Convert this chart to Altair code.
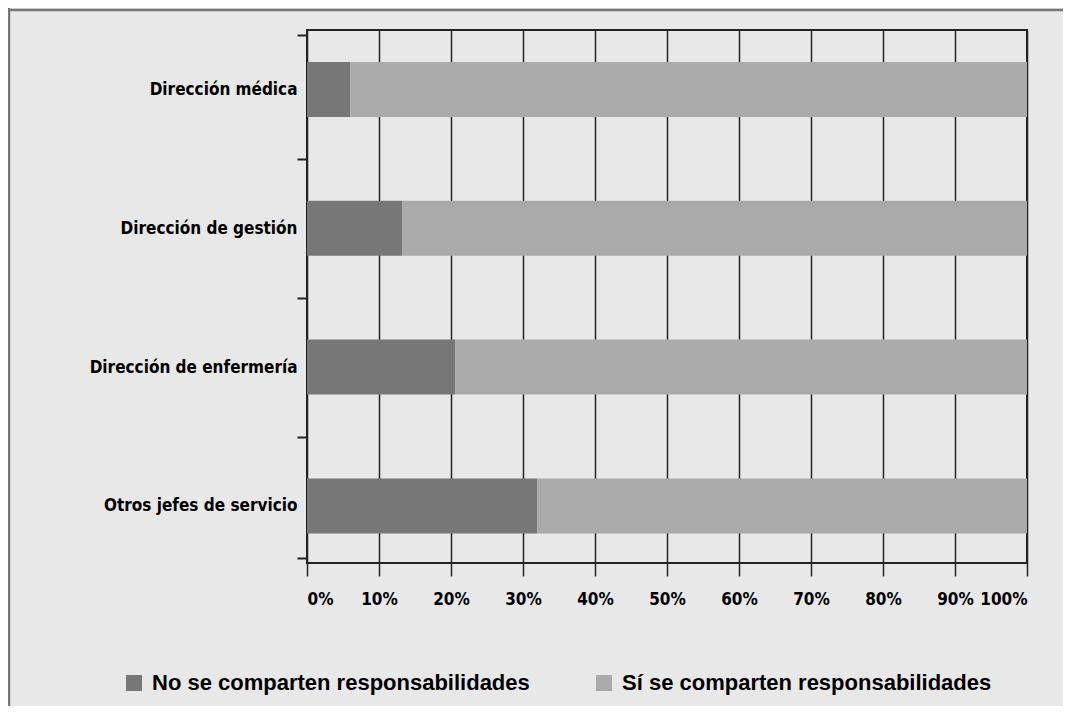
import json
import altair as alt
import pandas as pd

categories = ["Dirección médica", "Dirección de gestión", "Dirección de enfermería", "Otros jefes de servicio"]
series_names = ["No se comparten responsabilidades", "Sí se comparten responsabilidades"]
no_values = [6.0, 13.2, 20.6, 32.0]
si_values = [94.0, 86.8, 79.4, 68.0]
x_ticks = [0, 10, 20, 30, 40, 50, 60, 70, 80, 90, 100]

rows = []
for i, cat in enumerate(categories):
    rows.append({"cat": cat, "idx": i, "serie": series_names[0], "order": 0, "value": no_values[i]})
    rows.append({"cat": cat, "idx": i, "serie": series_names[1], "order": 1, "value": si_values[i]})
df = pd.DataFrame(rows)

W, H = 720, 533
PAD_L, PAD_T = 299, 22
PAD_R = 1055 - PAD_L - W
PAD_B = 698 - PAD_T - H

y_lo, y_hi = -0.392, 3.375
y_values = [y_lo, 0, 0.5, 1, 1.5, 2, 2.5, 3, y_hi]
cats_js = json.dumps(categories, ensure_ascii=False)

FONT_N = "Liberation Sans Narrow, DejaVu Sans Condensed, Roboto, sans-serif"
FONT = "Liberation Sans, Arial, sans-serif"

bars = alt.Chart(df).transform_stack(
    stack="value", as_=["x0", "x1"], groupby=["cat"], sort=[alt.SortField("order")]
).mark_bar(size=55).encode(
    x=alt.X("x0:Q", scale=alt.Scale(domain=[0, 100], nice=False, zero=False),
            axis=alt.Axis(values=x_ticks, labelExpr="datum.value + '%'", title=None,
                          grid=True, gridColor="#222", gridWidth=1.5,
                          domain=False, tickSize=13, tickColor="#222", tickWidth=1.5,
                          labelFont=FONT_N, labelFontWeight="bold", labelFontSize=17,
                          labelColor="#000", labelPadding=15)),
    x2="x1:Q",
    y=alt.Y("idx:Q", scale=alt.Scale(domain=[y_lo, y_hi], reverse=True, nice=False, zero=False),
            axis=alt.Axis(values=y_values, title=None, grid=False, domain=False,
                          labelExpr="datum.value % 1 == 0 ? " + cats_js + "[datum.value] : ''",
                          tickSize=10, tickWidth=2,
                          tickColor={"condition": {"test": "datum.value % 1 == 0", "value": "transparent"}, "value": "#222"},
                          labelFont=FONT_N, labelFontWeight="bold", labelFontSize=17,
                          labelColor="#000", labelPadding=0, labelOverlap=False, labelBound=False,
                          labelLimit=300)),
    color=alt.Color("serie:N", scale=alt.Scale(domain=series_names, range=["#777777", "#aaaaaa"]),
                    legend=alt.Legend(orient="none", legendX=-184, legendY=642, direction="horizontal",
                                      title=None, symbolType="square", symbolSize=256,
                                      symbolStrokeWidth=0, symbolOpacity=1,
                                      labelFont=FONT, labelFontWeight="bold", labelFontSize=22,
                                      labelColor="#000", labelOffset=7, columnPadding=63,
                                      labelLimit=500)),
)

frame_left = alt.Chart(pd.DataFrame({"k": [0]})).mark_rule(color="#777", strokeWidth=2.5).encode(
    x=alt.value(-298), y=alt.value(-PAD_T), y2=alt.value(H + PAD_B)
)
frame_top = alt.Chart(pd.DataFrame({"k": [0]})).mark_rule(color="#777", strokeWidth=2.5).encode(
    x=alt.value(-PAD_L), x2=alt.value(W + PAD_R), y=alt.value(-20)
)

chart = alt.layer(bars, frame_left, frame_top).properties(
    width=W, height=H,
    autosize=alt.AutoSizeParams(type="none"),
    padding={"left": PAD_L, "top": PAD_T, "right": PAD_R, "bottom": PAD_B},
    background="#e8e8e8",
).configure_view(stroke="#222", strokeWidth=2, fill="#e8e8e8")

chart.save("out.html", embed_options={"renderer": "svg", "actions": False})
